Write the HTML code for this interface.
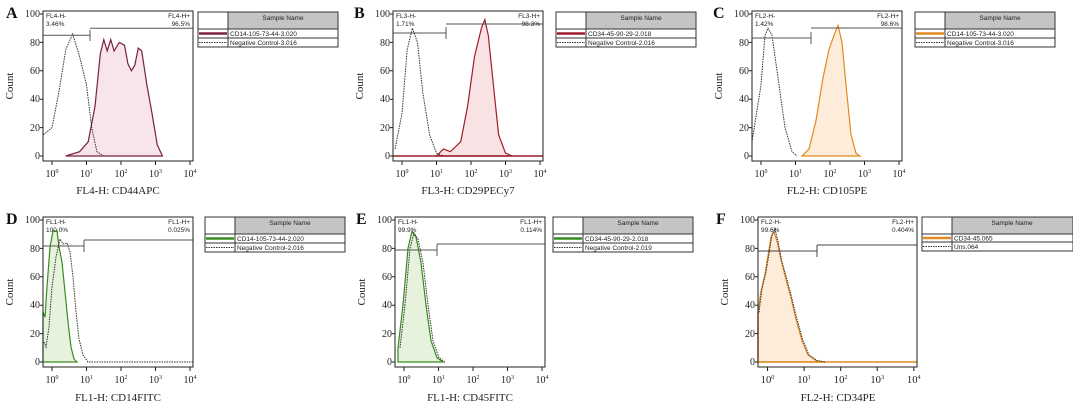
<!DOCTYPE html>
<html><head><style>
html,body{margin:0;padding:0;background:#fff;}
svg{display:block;}
.t{font-family:"Liberation Serif",serif;font-size:11px;fill:#222;}
.tk{font-family:"Liberation Serif",serif;font-size:10px;fill:#222;}
.g{font-family:"Liberation Sans",sans-serif;font-size:6.5px;fill:#222;}
.L{font-family:"Liberation Serif",serif;font-size:16px;font-weight:bold;fill:#111;}
.lg{font-family:"Liberation Sans",sans-serif;font-size:6.5px;fill:#222;}
</style></head><body>
<svg width="1073" height="404" viewBox="0 0 1073 404" xmlns="http://www.w3.org/2000/svg">
<defs>
<g id="yt">
<text class="tk" x="-3" y="6" text-anchor="end">100</text>
<text class="tk" x="-3" y="35" text-anchor="end">80</text>
<text class="tk" x="-3" y="63" text-anchor="end">60</text>
<text class="tk" x="-3" y="91" text-anchor="end">40</text>
<text class="tk" x="-3" y="120" text-anchor="end">20</text>
<text class="tk" x="-3" y="148" text-anchor="end">0</text>
<path d="M0 3h-3M0 31.4h-3M0 59.8h-3M0 88.2h-3M0 116.6h-3M0 145h-3" stroke="#222"/>
</g>
<g id="xt">
<path d="M9 150v4M43.5 150v4M78 150v4M112.5 150v4M147 150v4" stroke="#222"/>
<text class="tk" x="9" y="166" text-anchor="middle">10<tspan font-size="6" dy="-4">0</tspan></text>
<text class="tk" x="43.5" y="166" text-anchor="middle">10<tspan font-size="6" dy="-4">1</tspan></text>
<text class="tk" x="78" y="166" text-anchor="middle">10<tspan font-size="6" dy="-4">2</tspan></text>
<text class="tk" x="112.5" y="166" text-anchor="middle">10<tspan font-size="6" dy="-4">3</tspan></text>
<text class="tk" x="147" y="166" text-anchor="middle">10<tspan font-size="6" dy="-4">4</tspan></text>
</g>
</defs>

<!-- A -->
<text class="L" x="6" y="18">A</text>
<g transform="translate(43,11)">
<path d="M22.8 145L36.6 140.7L45.2 130.8L52 95.3L57.3 42.8L60.8 28.6L64.2 39.9L67.7 28.6L71.1 39.9L76.3 31.4L81.5 34.2L84.9 52.7L88.4 59.8L91.8 54.1L95.3 37.1L98.7 39.9L103.9 74L109 102.4L114.2 133.6L119.4 145Z" fill="#f8e4eb" stroke="#7a2040" stroke-width="1.2"/>
<path d="M0.4 123.7L9 116.6L15.9 81L22.8 38.5L29.7 22.9L36.6 45.6L43.5 74L48.7 116.6L53.9 140.7L60.8 145" fill="none" stroke="#333" stroke-dasharray="1.5,1"/>
<path d="M0 24.3H47M47 19V30M47 17.2H150" stroke="#555" fill="none"/>
<rect x="0" y="0" width="150" height="150" fill="none" stroke="#222"/>
<text class="g" x="3" y="7">FL4-H-</text><text class="g" x="3" y="15">3.46%</text>
<text class="g" x="147" y="7" text-anchor="end">FL4-H+</text><text class="g" x="147" y="15" text-anchor="end">96.5%</text>
<use href="#yt"/><use href="#xt"/>
<text class="t" x="75" y="183" text-anchor="middle">FL4-H: CD44APC</text>
<text class="t" transform="translate(-30,75) rotate(-90)" text-anchor="middle">Count</text>
</g>
<g transform="translate(198,12)">
<rect x="0" y="0" width="140" height="35" fill="#fff" stroke="#333"/>
<rect x="30" y="0" width="110" height="17" fill="#c4c4c4" stroke="#333"/>
<text class="lg" x="85" y="8" text-anchor="middle">Sample Name</text>
<path d="M0 17H140M0 26H140M30 17V35" stroke="#333"/>
<path d="M1 21.5H29" stroke="#7a2040" stroke-width="2.5"/>
<path d="M1 30.5H29" stroke="#333" stroke-dasharray="1.5,1"/>
<text class="lg" x="32" y="24">CD14-105-73-44-3.020</text>
<text class="lg" x="32" y="33">Negative Control-3.016</text>
</g>

<!-- B -->
<text class="L" x="354" y="18">B</text>
<g transform="translate(393,11)">
<path d="M43.5 145L50.4 137.9L57.3 140.7L67.7 130.8L74.6 95.3L81.5 45.6L88.4 17.2L91.8 8.7L95.3 24.3L100.4 74L105.6 123.7L112.5 142.2L119.4 145Z" fill="#f8e2e4" stroke="#a01c28" stroke-width="1.2"/>
<path d="M0 145H150" stroke="#a01c28" stroke-width="1.5"/>
<path d="M2.1 137.9L9 102.4L14.2 38.5L19.4 17.2L24.5 31.4L29.7 81L36.6 123.7L43.5 142.2L50.4 145" fill="none" stroke="#333" stroke-dasharray="1.5,1"/>
<path d="M0 22H53M53 16V28M53 13H150" stroke="#555" fill="none"/>
<rect x="0" y="0" width="150" height="150" fill="none" stroke="#222"/>
<text class="g" x="3" y="7">FL3-H-</text><text class="g" x="3" y="15">1.71%</text>
<text class="g" x="147" y="7" text-anchor="end">FL3-H+</text><text class="g" x="147" y="15" text-anchor="end">98.3%</text>
<use href="#yt"/><use href="#xt"/>
<text class="t" x="75" y="183" text-anchor="middle">FL3-H: CD29PECy7</text>
<text class="t" transform="translate(-30,75) rotate(-90)" text-anchor="middle">Count</text>
</g>
<g transform="translate(556,12)">
<rect x="0" y="0" width="140" height="35" fill="#fff" stroke="#333"/>
<rect x="30" y="0" width="110" height="17" fill="#c4c4c4" stroke="#333"/>
<text class="lg" x="85" y="8" text-anchor="middle">Sample Name</text>
<path d="M0 17H140M0 26H140M30 17V35" stroke="#333"/>
<path d="M1 21.5H29" stroke="#a01c28" stroke-width="2.5"/>
<path d="M1 30.5H29" stroke="#333" stroke-dasharray="1.5,1"/>
<text class="lg" x="32" y="24">CD34-45-90-29-2.018</text>
<text class="lg" x="32" y="33">Negative Control-2.016</text>
</g>

<!-- C -->
<text class="L" x="713" y="18">C</text>
<g transform="translate(752,11)">
<path d="M50 145L57 137.9L64 109.5L71 66.9L77 38.5L82 24.3L86 14.4L90 31.4L94 74L99 123.7L104 142.2L108 145Z" fill="#fcecd9" stroke="#e08a20" stroke-width="1.2"/>
<path d="M0 130.8L9 74L13 24.3L16 17.2L20 24.3L26 66.9L33 116.6L40 140.7L45 145" fill="none" stroke="#333" stroke-dasharray="1.5,1"/>
<path d="M0 27H59M59 21V33M59 17H150" stroke="#555" fill="none"/>
<rect x="0" y="0" width="150" height="150" fill="none" stroke="#222"/>
<text class="g" x="3" y="7">FL2-H-</text><text class="g" x="3" y="15">1.42%</text>
<text class="g" x="147" y="7" text-anchor="end">FL2-H+</text><text class="g" x="147" y="15" text-anchor="end">98.6%</text>
<use href="#yt"/><use href="#xt"/>
<text class="t" x="75" y="183" text-anchor="middle">FL2-H: CD105PE</text>
<text class="t" transform="translate(-30,75) rotate(-90)" text-anchor="middle">Count</text>
</g>
<g transform="translate(915,12)">
<rect x="0" y="0" width="140" height="35" fill="#fff" stroke="#333"/>
<rect x="30" y="0" width="110" height="17" fill="#c4c4c4" stroke="#333"/>
<text class="lg" x="85" y="8" text-anchor="middle">Sample Name</text>
<path d="M0 17H140M0 26H140M30 17V35" stroke="#333"/>
<path d="M1 21.5H29" stroke="#e08a20" stroke-width="2.5"/>
<path d="M1 30.5H29" stroke="#333" stroke-dasharray="1.5,1"/>
<text class="lg" x="32" y="24">CD14-105-73-44-3.020</text>
<text class="lg" x="32" y="33">Negative Control-3.016</text>
</g>

<!-- D -->
<text class="L" x="6" y="224">D</text>
<g transform="translate(43,217)">
<path d="M0 145L0 95L2 100L4 70L7 30L10 14L14 14L16 30L19 45L22 75L25 105L28 130L31 142L34 145Z" fill="#e6f2dc" stroke="#3a8a20" stroke-width="1.2"/>
<path d="M1 125L3 130L6 110L9 70L13 40L17 22L20 27L24 26L27 35L30 60L33 95L36 122L40 138L45 145L150 145" fill="none" stroke="#333" stroke-dasharray="1.5,1"/>
<path d="M0 29H41M41 23V35M41 23H150" stroke="#555" fill="none"/>
<rect x="0" y="0" width="150" height="150" fill="none" stroke="#222"/>
<text class="g" x="3" y="7">FL1-H-</text><text class="g" x="3" y="15">100.0%</text>
<text class="g" x="147" y="7" text-anchor="end">FL1-H+</text><text class="g" x="147" y="15" text-anchor="end">0.025%</text>
<use href="#yt"/><use href="#xt"/>
<text class="t" x="75" y="184" text-anchor="middle">FL1-H: CD14FITC</text>
<text class="t" transform="translate(-30,75) rotate(-90)" text-anchor="middle">Count</text>
</g>
<g transform="translate(205,217)">
<rect x="0" y="0" width="140" height="35" fill="#fff" stroke="#333"/>
<rect x="30" y="0" width="110" height="17" fill="#c4c4c4" stroke="#333"/>
<text class="lg" x="85" y="8" text-anchor="middle">Sample Name</text>
<path d="M0 17H140M0 26H140M30 17V35" stroke="#333"/>
<path d="M1 21.5H29" stroke="#3a8a20" stroke-width="2.5"/>
<path d="M1 30.5H29" stroke="#333" stroke-dasharray="1.5,1"/>
<text class="lg" x="32" y="24">CD14-105-73-44-2.020</text>
<text class="lg" x="32" y="33">Negative Control-2.016</text>
</g>

<!-- E -->
<text class="L" x="356" y="224">E</text>
<g transform="translate(395,217)">
<path d="M3 145L3 130.8L8 88L13 31.4L17 14.4L21 20L26 45.6L31 88L36 123.7L42 140.7L48 145Z" fill="#e6f2dc" stroke="#3a8a20" stroke-width="1.2"/>
<path d="M5 130.8L10 88L15 31.4L19 16L23 22L28 45.6L33 88L38 123.7L44 140.7L50 145" fill="none" stroke="#333" stroke-dasharray="1.5,1"/>
<path d="M0 33H42M42 27V39M42 27H150" stroke="#555" fill="none"/>
<rect x="0" y="0" width="150" height="150" fill="none" stroke="#222"/>
<text class="g" x="3" y="7">FL1-H-</text><text class="g" x="3" y="15">99.9%</text>
<text class="g" x="147" y="7" text-anchor="end">FL1-H+</text><text class="g" x="147" y="15" text-anchor="end">0.114%</text>
<use href="#yt"/><use href="#xt"/>
<text class="t" x="75" y="184" text-anchor="middle">FL1-H: CD45FITC</text>
<text class="t" transform="translate(-30,75) rotate(-90)" text-anchor="middle">Count</text>
</g>
<g transform="translate(553,217)">
<rect x="0" y="0" width="140" height="35" fill="#fff" stroke="#333"/>
<rect x="30" y="0" width="110" height="17" fill="#c4c4c4" stroke="#333"/>
<text class="lg" x="85" y="8" text-anchor="middle">Sample Name</text>
<path d="M0 17H140M0 26H140M30 17V35" stroke="#333"/>
<path d="M1 21.5H29" stroke="#3a8a20" stroke-width="2.5"/>
<path d="M1 30.5H29" stroke="#333" stroke-dasharray="1.5,1"/>
<text class="lg" x="32" y="24">CD34-45-90-29-2.018</text>
<text class="lg" x="32" y="33">Negative Control-2.019</text>
</g>

<!-- F -->
<text class="L" x="716" y="224">F</text>
<g transform="translate(758,217)">
<path d="M0 145L0 95.3L3 74L7 57L10 38.5L13 20L16 14.4L19 24.3L23 42.8L28 62.6L33 81L38 102.4L44 123.7L50 137.9L58 143.6L66 145Z" fill="#fcecd9" stroke="#e08a20" stroke-width="1.2"/>
<path d="M0 145H159M0 95V145" stroke="#e08a20" stroke-width="1.5"/>
<path d="M1 95.3L4 72L8 55L11 37L14 18L17 12L20 24.3L24 45L29 62.6L34 82L39 102.4L45 123.7L51 137.9L59 143.6L67 145" fill="none" stroke="#333" stroke-dasharray="1.5,1"/>
<path d="M0 34H59M59 28V40M59 28H159" stroke="#444" fill="none"/>
<rect x="0" y="0" width="159" height="150" fill="none" stroke="#222"/>
<text class="g" x="3" y="7">FL2-H-</text><text class="g" x="3" y="15">99.6%</text>
<text class="g" x="156" y="7" text-anchor="end">FL2-H+</text><text class="g" x="156" y="15" text-anchor="end">0.404%</text>
<use href="#yt"/>
<g transform="scale(1.06,1)"><use href="#xt"/></g>
<text class="t" x="80" y="184" text-anchor="middle">FL2-H: CD34PE</text>
<text class="t" transform="translate(-30,75) rotate(-90)" text-anchor="middle">Count</text>
</g>
<g transform="translate(922,217)">
<rect x="0" y="0" width="151" height="34" fill="#fff" stroke="#333"/>
<rect x="30" y="0" width="121" height="17" fill="#c4c4c4" stroke="#333"/>
<text class="lg" x="90" y="8" text-anchor="middle">Sample Name</text>
<path d="M0 17H151M0 25H151M30 17V34" stroke="#333"/>
<path d="M1 21H29" stroke="#e08a20" stroke-width="2.5"/>
<path d="M1 29.5H29" stroke="#333" stroke-dasharray="1.5,1"/>
<text class="lg" x="32" y="23.5">CD34-45.065</text>
<text class="lg" x="32" y="32">Uns.064</text>
</g>
</svg>
</body></html>
